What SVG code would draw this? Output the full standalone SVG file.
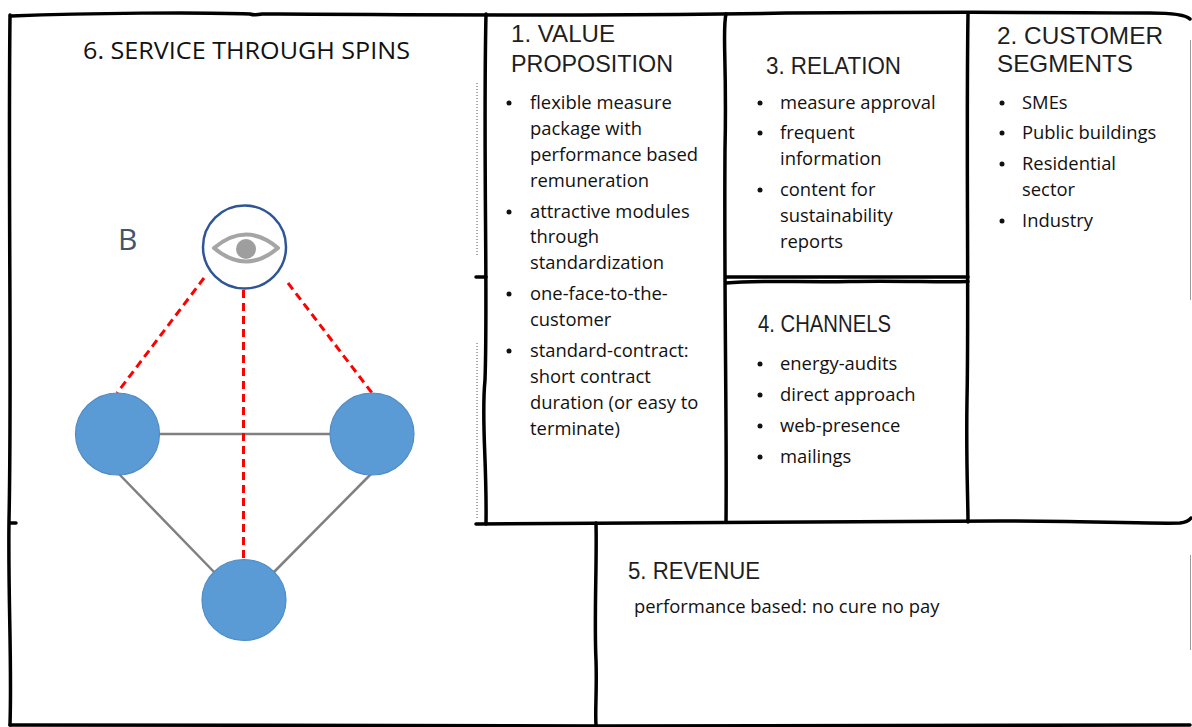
<svg xmlns="http://www.w3.org/2000/svg" width="1192" height="727" viewBox="0 0 1192 727">
<defs>
<style>
.frame{fill:none;stroke:#000;stroke-width:3.5;stroke-linecap:round;stroke-linejoin:round}
.faint{fill:none;stroke:#9a9a9a;stroke-width:1}
.dots{fill:none;stroke:#555;stroke-width:1;stroke-dasharray:1 2}
.head{font-family:"Liberation Sans",Arial,sans-serif;font-size:24px;fill:#1e1e1e}
.body{font-family:"Open Sans","Noto Sans",sans-serif;font-size:18.4px;fill:#111}
.title{font-family:"Open Sans","Noto Sans",sans-serif;font-size:24px;fill:#111}
.bul{fill:#111}
.node{fill:#5B9BD5;stroke:#4F8CC6;stroke-width:1.2}
.edge{stroke:#808080;stroke-width:2.5;fill:none}
.red{stroke:#FF0000;stroke-width:3;stroke-dasharray:8 5;fill:none}
</style>
</defs>
<rect width="1192" height="727" fill="#fff"/>

<g id="frame-lines">
<path class="frame" d="M11,16 C90,13 200,12 250,14 C253,15 257,15 262,14 C420,15 560,16 720,14 C860,12 1000,12 1150,13 Q1184,13 1190,19"/>
<path class="frame" d="M10,15 C8,200 12,380 9,520 C8,600 12,660 10,725"/>
<path class="frame" d="M10,725 C200,726 420,724 600,726 C800,725 1000,725 1190,725"/>
<path class="frame" d="M10,523 L16,523"/>
<path class="frame" d="M486,14 C483,150 488,300 485,380 C481,420 487,460 486,524"/>
<path class="frame" d="M476,277 L486,277"/>
<path class="frame" d="M726,14 C722,30 727,60 725,150 C724,300 727,420 726,522"/>
<path class="frame" d="M968,14 C966,150 969,300 967,400 C966,460 968,500 968,522"/>
<path class="frame" d="M726,277 L968,277"/>
<path class="frame" d="M726,283 C760,280 800,282.5 850,281.5 C900,280.5 940,282.5 968,281.5"/>
<path class="frame" d="M476,524 C700,523 900,521 1000,521 C1100,521 1150,524 1180,523 Q1188,522 1191,518"/>
<path class="frame" d="M596,523 C597,560 594,620 596,660 C597,690 595,710 596,725"/>
<path class="faint" d="M1190.5,40 L1190.5,300 M1190.5,555 L1190.5,650"/>
<path class="dots" d="M477,83 L477,257 M477,343 L477,520"/>
</g>

<g id="service-through-spins">
<text class="title" x="83" y="59" textLength="327" lengthAdjust="spacingAndGlyphs">6. SERVICE THROUGH SPINS</text>
<text x="118" y="250" font-family="'Open Sans','Noto Sans',sans-serif" font-size="30" fill="#44546A">B</text>
</g>

<g id="connectors">
<line class="edge" x1="159" y1="434" x2="330" y2="434"/>
<line class="edge" x1="119" y1="474" x2="215" y2="573"/>
<line class="edge" x1="371" y1="474" x2="273" y2="573"/>
<line class="red" x1="204" y1="278" x2="117" y2="393"/>
<line class="red" x1="243.5" y1="290" x2="243.5" y2="560"/>
<line class="red" x1="288" y1="283" x2="372" y2="393"/>
</g>

<g id="node-eye">
<circle cx="244.5" cy="247" r="41.5" fill="#fff" stroke="#2F5597" stroke-width="2.5"/>
<path d="M214,248 Q246,221 278,248 Q246,275 214,248 Z" fill="none" stroke="#A5A5A5" stroke-width="4" stroke-linejoin="round"/>
<circle cx="246" cy="249" r="10" fill="#9E9E9E"/>
</g>
<g id="node-left"><ellipse class="node" cx="117.5" cy="434" rx="42" ry="41"/></g>
<g id="node-right"><ellipse class="node" cx="372" cy="434" rx="42" ry="41"/></g>
<g id="node-bottom"><ellipse class="node" cx="244" cy="600" rx="42" ry="40.5"/></g>

<g id="value-proposition">
<text class="head" x="511" y="42" textLength="104" lengthAdjust="spacingAndGlyphs">1. VALUE</text>
<text class="head" x="511" y="72" textLength="162" lengthAdjust="spacingAndGlyphs">PROPOSITION</text>
<circle class="bul" cx="509" cy="103" r="2.5"/>
<circle class="bul" cx="509" cy="212" r="2.5"/>
<circle class="bul" cx="509" cy="294" r="2.5"/>
<circle class="bul" cx="509" cy="351" r="2.5"/>
<text class="body" x="530" y="109">flexible measure</text>
<text class="body" x="530" y="135">package with</text>
<text class="body" x="530" y="161">performance based</text>
<text class="body" x="530" y="187">remuneration</text>
<text class="body" x="530" y="218">attractive modules</text>
<text class="body" x="530" y="243">through</text>
<text class="body" x="530" y="269">standardization</text>
<text class="body" x="530" y="300">one-face-to-the-</text>
<text class="body" x="530" y="326">customer</text>
<text class="body" x="530" y="357">standard-contract:</text>
<text class="body" x="530" y="383">short contract</text>
<text class="body" x="530" y="409">duration (or easy to</text>
<text class="body" x="530" y="435">terminate)</text>
</g>

<g id="relation">
<text class="head" x="766" y="74" textLength="135" lengthAdjust="spacingAndGlyphs">3. RELATION</text>
<circle class="bul" cx="760" cy="103" r="2.5"/>
<circle class="bul" cx="760" cy="133" r="2.5"/>
<circle class="bul" cx="760" cy="190" r="2.5"/>
<text class="body" x="780" y="109">measure approval</text>
<text class="body" x="780" y="139">frequent</text>
<text class="body" x="780" y="165">information</text>
<text class="body" x="780" y="196">content for</text>
<text class="body" x="780" y="222">sustainability</text>
<text class="body" x="780" y="248">reports</text>
</g>

<g id="customer-segments">
<text class="head" x="997" y="44" textLength="166" lengthAdjust="spacingAndGlyphs">2. CUSTOMER</text>
<text class="head" x="997" y="72" textLength="136" lengthAdjust="spacingAndGlyphs">SEGMENTS</text>
<circle class="bul" cx="1002" cy="103" r="2.5"/>
<circle class="bul" cx="1002" cy="133" r="2.5"/>
<circle class="bul" cx="1002" cy="164" r="2.5"/>
<circle class="bul" cx="1002" cy="221" r="2.5"/>
<text class="body" x="1022" y="109">SMEs</text>
<text class="body" x="1022" y="139">Public buildings</text>
<text class="body" x="1022" y="170">Residential</text>
<text class="body" x="1022" y="196">sector</text>
<text class="body" x="1022" y="227">Industry</text>
</g>

<g id="channels">
<text class="head" x="758" y="332" textLength="133" lengthAdjust="spacingAndGlyphs">4. CHANNELS</text>
<circle class="bul" cx="760" cy="364" r="2.5"/>
<circle class="bul" cx="760" cy="395" r="2.5"/>
<circle class="bul" cx="760" cy="426" r="2.5"/>
<circle class="bul" cx="760" cy="457" r="2.5"/>
<text class="body" x="780" y="370">energy-audits</text>
<text class="body" x="780" y="401">direct approach</text>
<text class="body" x="780" y="432">web-presence</text>
<text class="body" x="780" y="463">mailings</text>
</g>

<g id="revenue">
<text class="head" x="628" y="579" textLength="132" lengthAdjust="spacingAndGlyphs">5. REVENUE</text>
<text class="body" x="634" y="613">performance based: no cure no pay</text>
</g>
</svg>
